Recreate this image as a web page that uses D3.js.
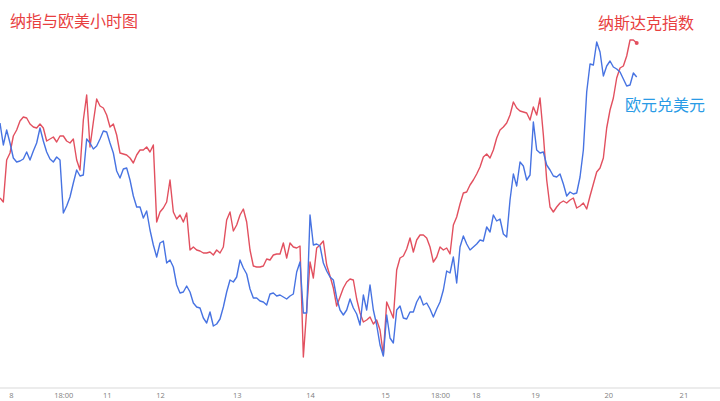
<!DOCTYPE html>
<html><head><meta charset="utf-8">
<script src="https://cdn.jsdelivr.net/npm/d3@7"></script>
<style>
html,body{margin:0;padding:0;background:#fff;}
svg{display:block;}
text{font-family:"Noto Sans CJK SC","Noto Sans",sans-serif;}
</style></head>
<body><svg id="chart" width="720" height="401"></svg>
<script>
// Hourly levels (relative units), one point per hour
const nasdaq = [202,198,240,247,264,270,279,283,282,276,
273,272,276,272,259,261,263,258,264,264,
259,257,261,240,230,280,305,253,278,301,
294,292,285,273,276,265,247,246,245,242,
237,245,250,250,253,248,255,178,188,192,
198,220,188,181,185,178,187,150,153,150,
149,147,147,148,145,150,147,153,180,188,
169,175,185,191,178,150,134,133,133,134,
141,140,145,146,146,157,142,157,153,152,
154,43,90,138,122,152,155,159,135,124,
112,94,103,112,118,121,120,101,87,78,
80,83,76,80,70,45,98,90,82,130,
142,144,151,162,148,160,165,165,162,153,
138,143,153,150,152,146,175,183,196,207,
208,215,220,226,233,243,246,242,250,262,
270,273,277,285,298,292,289,288,287,280,
293,285,302,265,220,193,188,193,197,199,
197,200,202,192,194,197,191,204,216,228,
232,242,272,290,302,322,332,334,344,360,
360,357];
const eurusd = [277,255,270,257,242,238,239,241,248,240,
249,257,272,259,248,241,238,243,240,187,
194,203,217,230,224,225,261,257,251,254,
261,269,268,257,247,229,222,231,232,220,
204,193,193,182,189,170,155,143,157,159,
137,140,133,115,107,108,114,108,97,93,
92,82,77,88,74,76,81,93,108,120,
118,123,140,132,126,111,102,102,99,98,
95,106,107,104,105,103,101,104,106,128,
138,87,87,185,155,156,154,137,129,123,
120,102,90,85,90,101,92,86,75,105,
90,115,90,75,55,44,85,62,57,90,
94,82,81,88,88,98,104,95,97,91,
83,91,98,110,129,127,143,117,153,164,
156,150,153,156,160,159,173,168,185,179,
181,166,163,200,226,214,238,234,220,225,
278,250,247,248,235,230,224,223,226,216,
204,208,206,207,223,250,308,336,335,358,
348,324,334,339,333,331,328,321,314,315,
327,323];
// x-axis tick positions (hour index) and labels
const tickIdx = [3.3, 19, 32, 48, 71, 93, 115.5, 132, 142.7, 160.5, 182.5, 205];
const tickLabels = ["8","18:00","11","12","13","14","15","18:00","18","19","20","21"];
const titleText = "纳指与欧美小时图";
const seriesNames = ["纳斯达克指数","欧元兑美元"];

const svg = d3.select("#chart");
const W = 720, H = 401;
const x = d3.scaleLinear().domain([0, nasdaq.length - 1]).range([0, 636.7]);
const y = d3.scaleLinear().domain([0, 400]).range([400, 0]);

const axisY = 388;
const axis = d3.axisBottom(x)
  .tickValues(tickIdx)
  .tickFormat((d, i) => tickLabels[i])
  .tickSize(0)
  .tickPadding(5);
const gx = svg.append("g").attr("transform", `translate(0,${axisY})`).call(axis);
gx.select(".domain").attr("d", `M0,0H${W}`).attr("stroke", "#d9d9d9").attr("stroke-width", 1.2);
gx.selectAll("text").attr("fill", "#808080").attr("font-size", 7.5)
  .style("font-family", "'Open Sans','Noto Sans',sans-serif");

const line = d3.line().x((d, i) => x(i)).y(d => y(d));

svg.append("path").datum(nasdaq).attr("d", line)
  .attr("fill", "none").attr("stroke", "#e2505f").attr("stroke-width", 1.4)
  .attr("stroke-linejoin", "round");
svg.append("path").datum(eurusd).attr("d", line)
  .attr("fill", "none").attr("stroke", "#4773e2").attr("stroke-width", 1.4)
  .attr("stroke-linejoin", "round");

// end dot on nasdaq
svg.append("circle")
  .attr("cx", x(nasdaq.length - 1)).attr("cy", y(nasdaq[nasdaq.length - 1]))
  .attr("r", 2).attr("fill", "#e2505f");

svg.append("text").attr("x", 10).attr("y", 27).attr("font-size", 16)
  .attr("fill", "#e8403f").text(titleText);
svg.append("text").attr("x", 598).attr("y", 29).attr("font-size", 16)
  .attr("fill", "#e8403f").text(seriesNames[0]);
svg.append("text").attr("x", 625).attr("y", 111).attr("font-size", 16)
  .attr("fill", "#2a9be6").text(seriesNames[1]);
</script>
</body></html>
